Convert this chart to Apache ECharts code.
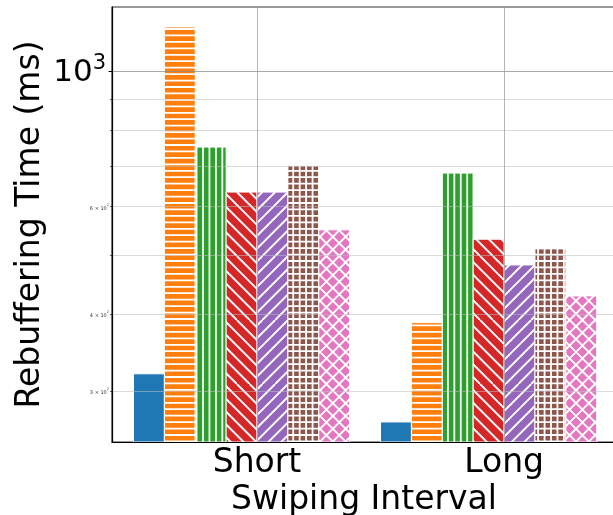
<!DOCTYPE html>
<html>
<head>
<meta charset="utf-8">
<script src="https://cdn.jsdelivr.net/npm/echarts@6/dist/echarts.min.js"></script>
<style>
  html, body { margin: 0; padding: 0; background: #fff; }
  #chart { width: 613px; height: 515px; }
</style>
</head>
<body>
<div id="chart"></div>
<script>
// data
const categories = ['Short', 'Long'];
const seriesNames = ['A', 'B', 'C', 'D', 'E', 'F', 'G'];
const shortValues = [320, 1180, 751, 634, 634, 700, 550];
const longValues = [267, 388, 681, 531, 482, 512, 429];
const minorTickValues = [300, 400, 500, 600, 700, 800, 900];
const minorLabelValues = [300, 400, 600];
const majorTickValues = [1000];

const colors = ['#1f77b4', '#ff7f0e', '#2ca02c', '#d62728', '#9467bd', '#8c564b', '#e377c2'];
const hatches = ['', 'h', 'v', 'bs', 'fs', 'grid', 'x'];

const Y_MIN = 247.6, Y_MAX = 1272;
const BAR_W = 0.125;

// build a repeating hatch tile (white lines on the bar colour)
function makeHatch(color, kind) {
    if (!kind) return color;
    const diag = kind === 'bs' || kind === 'fs' || kind === 'x';
    const size = diag ? 64 : 58;
    const n = diag ? 5 : 9;
    const step = size / n;
    const c = document.createElement('canvas');
    c.width = size; c.height = size;
    const ctx = c.getContext('2d');
    ctx.fillStyle = color;
    ctx.fillRect(0, 0, size, size);
    ctx.strokeStyle = '#fff';
    ctx.lineWidth = diag ? 1.9 : 1.8;
    ctx.beginPath();
    for (let k = -n; k <= n; k++) {
        const o = k * step + step / 2;
        if (kind === 'h' || kind === 'grid') { ctx.moveTo(0, o); ctx.lineTo(size, o); }
        if (kind === 'v' || kind === 'grid') { ctx.moveTo(o, 0); ctx.lineTo(o, size); }
        if (kind === 'bs' || kind === 'x') { ctx.moveTo(o, 0); ctx.lineTo(o + size, size); }
        if (kind === 'fs' || kind === 'x') { ctx.moveTo(o, size); ctx.lineTo(o + size, 0); }
    }
    ctx.stroke();
    return { image: c, repeat: 'repeat' };
}

const chart = echarts.init(document.getElementById('chart'), null, { renderer: 'canvas' });

const series = seriesNames.map((name, i) => {
    const fill = makeHatch(colors[i], hatches[i]);
    return {
        name: name,
        type: 'custom',
        xAxisIndex: 0,
        yAxisIndex: 0,
        z: 2,
        data: categories.map((c, j) => [j, j === 0 ? shortValues[i] : longValues[i]]),
        renderItem: (params, api) => {
            const x = api.value(0);
            const v = api.value(1);
            const p0 = api.coord([x + (i - 4) * BAR_W, v]);
            const p1 = api.coord([x + (i - 3) * BAR_W, Y_MIN]);
            return {
                type: 'rect',
                shape: { x: p0[0], y: p0[1], width: p1[0] - p0[0], height: p1[1] - p0[1] },
                style: { fill: fill, stroke: '#fff', lineWidth: 1 }
            };
        }
    };
});

const FONT = 'DejaVu Sans';

chart.setOption({
    animation: false,
    backgroundColor: '#fff',
    grid: {
        left: 112, right: -3, top: 7, bottom: 73,
        outerBoundsMode: 'none',
        containLabel: false,
        show: true, borderColor: '#333', borderWidth: 1.2, backgroundColor: 'transparent'
    },
    xAxis: {
        type: 'value',
        min: -0.587,
        max: 1.453,
        z: 3,
        name: 'Swiping Interval',
        nameLocation: 'middle',
        nameGap: 42,
        nameMoveOverlap: false,
        nameTextStyle: { fontFamily: FONT, fontSize: 33, color: '#000' },
        axisLine: { onZero: false, lineStyle: { color: '#000', width: 1.2 } },
        axisTick: { show: false, customValues: [0, 1] },
        axisLabel: {
            customValues: [0, 1],
            formatter: (v) => categories[Math.round(v)],
            fontFamily: FONT, fontSize: 33, color: '#000', margin: 5
        },
        splitLine: { show: true, lineStyle: { color: 'rgba(150,150,150,0.7)', width: 1 } }
    },
    yAxis: [
        {
            type: 'log',
            logBase: 10,
            min: Y_MIN,
            max: Y_MAX,
            z: 3,
            name: 'Rebuffering Time (ms)',
            nameLocation: 'middle',
            nameGap: 65,
            nameMoveOverlap: false,
            nameTextStyle: { fontFamily: FONT, fontSize: 33, color: '#000' },
            axisLine: { show: true, onZero: false, lineStyle: { color: '#000', width: 1.2 } },
            axisTick: { show: true, customValues: minorTickValues, length: 2, lineStyle: { color: '#000', width: 0.6 } },
            axisLabel: {
                customValues: minorLabelValues,
                margin: 3,
                formatter: (v) => '{a|' + Math.round(v / 100) + ' × 10}{b|2}',
                rich: {
                    a: { fontFamily: FONT, fontSize: 5, color: '#333', verticalAlign: 'bottom', lineHeight: 8 },
                    b: { fontFamily: FONT, fontSize: 3.5, color: '#333', verticalAlign: 'top', lineHeight: 8 }
                }
            },
            splitLine: { show: true, lineStyle: { color: 'rgba(190,190,190,0.55)', width: 1.2 } }
        },
        {
            type: 'log',
            logBase: 10,
            min: Y_MIN,
            max: Y_MAX,
            z: 3,
            position: 'left',
            axisLine: { show: false, onZero: false },
            axisTick: { show: true, customValues: majorTickValues, length: 3.5, lineStyle: { color: '#000', width: 1 } },
            axisLabel: {
                customValues: majorTickValues,
                margin: 6,
                formatter: () => '{a|10}{b|3}',
                rich: {
                    a: { fontFamily: FONT, fontSize: 31, color: '#000', verticalAlign: 'bottom', lineHeight: 36 },
                    b: { fontFamily: FONT, fontSize: 21, color: '#000', verticalAlign: 'top', lineHeight: 36 }
                }
            },
            splitLine: { show: true, lineStyle: { color: 'rgba(140,140,140,0.75)', width: 1.2 } }
        }
    ],
    series: series
});
</script>
</body>
</html>
